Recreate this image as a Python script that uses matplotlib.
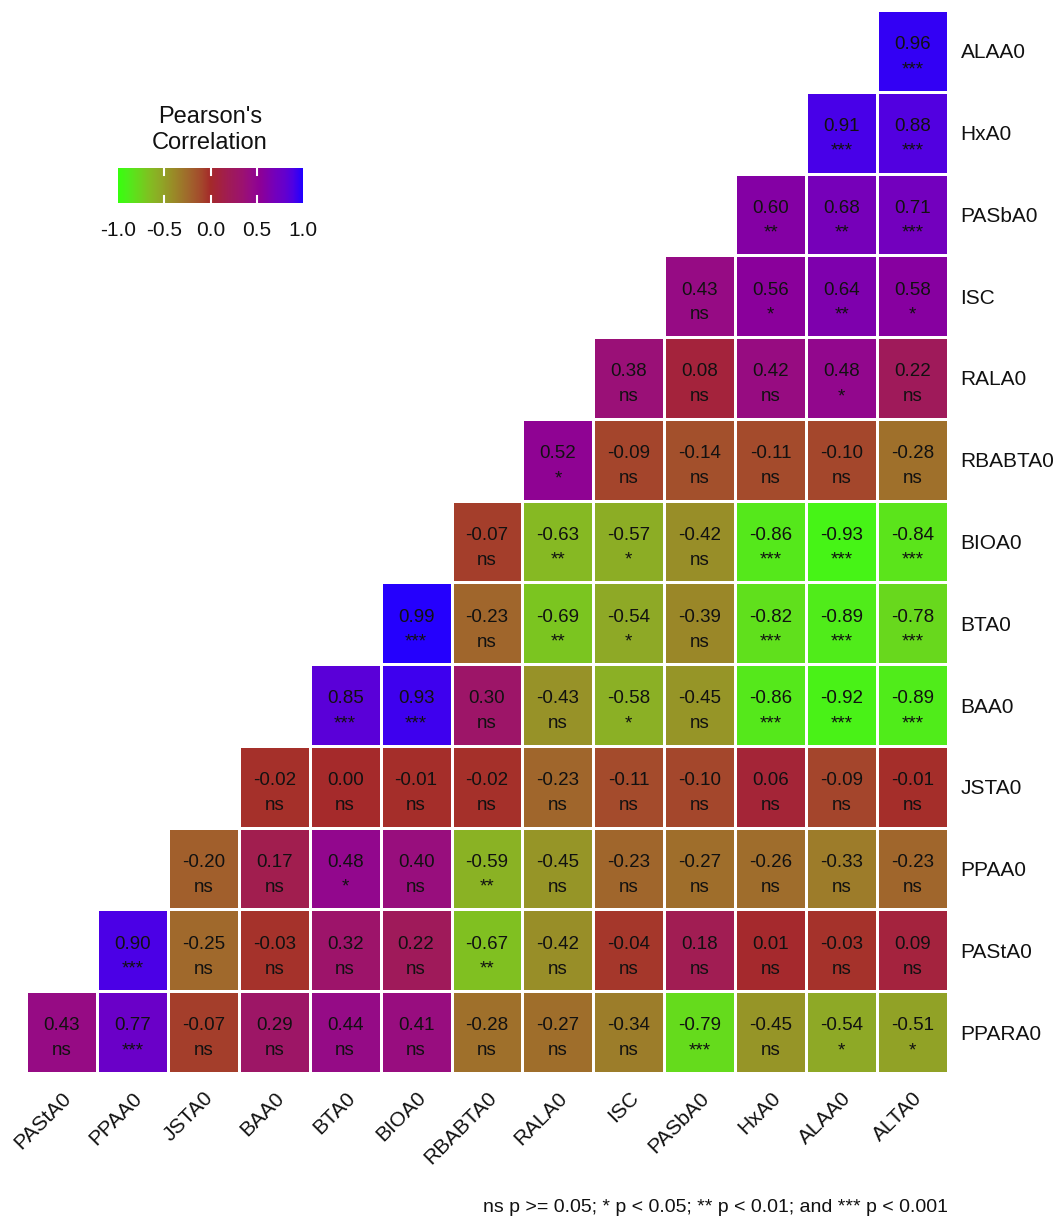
import numpy as np
import matplotlib
matplotlib.use("Agg")
import matplotlib.pyplot as plt
from matplotlib.colors import LinearSegmentedColormap

plt.rcParams["font.family"] = ["Liberation Sans", "DejaVu Sans"]

cols = ["PAStA0", "PPAA0", "JSTA0", "BAA0", "BTA0", "BIOA0", "RBABTA0",
        "RALA0", "ISC", "PASbA0", "HxA0", "ALAA0", "ALTA0"]
rows = ["ALAA0", "HxA0", "PASbA0", "ISC", "RALA0", "RBABTA0", "BIOA0",
        "BTA0", "BAA0", "JSTA0", "PPAA0", "PAStA0", "PPARA0"]

# lower triangle, each row runs up to the last column (ALTA0)
r_rows = [
    [0.96],
    [0.91, 0.88],
    [0.60, 0.68, 0.71],
    [0.43, 0.56, 0.64, 0.58],
    [0.38, 0.08, 0.42, 0.48, 0.22],
    [0.52, -0.09, -0.14, -0.11, -0.10, -0.28],
    [-0.07, -0.63, -0.57, -0.42, -0.86, -0.93, -0.84],
    [0.99, -0.23, -0.69, -0.54, -0.39, -0.82, -0.89, -0.78],
    [0.85, 0.93, 0.30, -0.43, -0.58, -0.45, -0.86, -0.92, -0.89],
    [-0.02, 0.00, -0.01, -0.02, -0.23, -0.11, -0.10, 0.06, -0.09, -0.01],
    [-0.20, 0.17, 0.48, 0.40, -0.59, -0.45, -0.23, -0.27, -0.26, -0.33, -0.23],
    [0.90, -0.25, -0.03, 0.32, 0.22, -0.67, -0.42, -0.04, 0.18, 0.01, -0.03, 0.09],
    [0.43, 0.77, -0.07, 0.29, 0.44, 0.41, -0.28, -0.27, -0.34, -0.79, -0.45, -0.54, -0.51],
]
sig_rows = [
    ["***"],
    ["***", "***"],
    ["**", "**", "***"],
    ["ns", "*", "**", "*"],
    ["ns", "ns", "ns", "*", "ns"],
    ["*", "ns", "ns", "ns", "ns", "ns"],
    ["ns", "**", "*", "ns", "***", "***", "***"],
    ["***", "ns", "**", "*", "ns", "***", "***", "***"],
    ["***", "***", "ns", "ns", "*", "ns", "***", "***", "***"],
    ["ns"] * 10,
    ["ns", "ns", "*", "ns", "**", "ns", "ns", "ns", "ns", "ns", "ns"],
    ["***", "ns", "ns", "ns", "ns", "**", "ns", "ns", "ns", "ns", "ns", "ns"],
    ["ns", "***", "ns", "ns", "ns", "ns", "ns", "ns", "ns", "***", "ns", "*", "*"],
]

# green -> brown -> blue
stops = [(-1.0, "#38FF0E"), (-0.9, "#4EEE1A"), (-0.8, "#64DC1C"), (-0.65, "#84BC22"),
         (-0.55, "#8EAA26"), (-0.4, "#9A8A28"), (-0.25, "#A06A2C"), (-0.1, "#A4482C"),
         (0.0, "#A52A2A"), (0.1, "#A42240"), (0.2, "#A01C56"), (0.35, "#9C1270"),
         (0.45, "#950A88"), (0.55, "#8C0098"), (0.7, "#7400BC"), (0.8, "#6600CC"),
         (0.9, "#4E00E4"), (1.0, "#2200FF")]
cmap = LinearSegmentedColormap.from_list("gbb", [((v + 1) / 2, c) for v, c in stops])

n = len(cols)
M = np.full((n, n), np.nan)
for i, vals in enumerate(r_rows):
    for j, v in enumerate(vals):
        M[i, n - len(vals) + j] = v

W, H = 1062, 1218
fig = plt.figure(figsize=(W / 100, H / 100), dpi=100)
ax = fig.add_axes([26 / W, 1 - 1073 / H, 922 / W, 1063 / H])
ax.pcolormesh(np.arange(n + 1), np.arange(n + 1), np.ma.masked_invalid(M),
              cmap=cmap, vmin=-1, vmax=1, edgecolors="white", linewidth=0.9)
ax.set_xlim(0, n)
ax.set_ylim(n, 0)

for i, vals in enumerate(r_rows):
    for j, v in enumerate(vals):
        x = n - len(vals) + j + 0.5
        ax.text(x, i + 0.5 - 0.075, f"{v:.2f}", ha="center", va="center",
                fontsize=13.5, color="#111111")
        ax.text(x, i + 0.5 + 0.285, sig_rows[i][j], ha="center", va="baseline",
                fontsize=13.5, color="#111111")

for s in ax.spines.values():
    s.set_visible(False)
ax.yaxis.tick_right()
ax.set_yticks(np.arange(n) + 0.5)
ax.set_yticklabels(rows, fontsize=15, color="#111111")
ax.set_xticks(np.arange(n) + 0.5)
ax.set_xticklabels(cols, fontsize=15, color="#111111", rotation=45,
                   ha="right", va="top", rotation_mode="anchor")
ax.tick_params(length=0)
ax.tick_params(axis="y", pad=9)
ax.tick_params(axis="x", pad=11)

# legend bar
cax = fig.add_axes([118 / W, 1 - 203 / H, 185 / W, 35 / H])
grad = np.linspace(-1, 1, 400).reshape(1, -1)
cax.imshow(grad, aspect="auto", cmap=cmap, vmin=-1, vmax=1,
           extent=[-1, 1, 0, 1])
for t in [-0.5, 0.0, 0.5]:
    cax.plot([t, t], [0, 0.2], color="white", lw=1.5)
    cax.plot([t, t], [0.8, 1], color="white", lw=1.5)
cax.set_xlim(-1, 1)
cax.set_ylim(0, 1)
cax.set_yticks([])
cax.set_xticks([-1, -0.5, 0, 0.5, 1])
cax.set_xticklabels(["-1.0", "-0.5", "0.0", "0.5", "1.0"], fontsize=15,
                    color="#111111")
cax.tick_params(length=0, pad=13)
for s in cax.spines.values():
    s.set_visible(False)
fig.text(210 / W, 1 - 130 / H, "Pearson's\nCorrelation", ha="center",
         va="center", fontsize=17, color="#111111", linespacing=1.2)

fig.text(948 / W, 1 - 1207 / H,
         "ns p >= 0.05; * p < 0.05; ** p < 0.01; and *** p < 0.001",
         ha="right", va="center", fontsize=14, color="#111111")

fig.savefig("out.png", dpi=100)
